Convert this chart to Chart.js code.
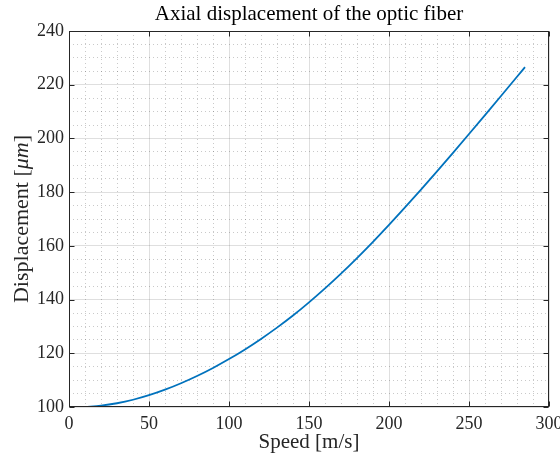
<!DOCTYPE html>
<html>
<head>
<meta charset="utf-8">
<script src="https://cdn.jsdelivr.net/npm/chart.js@4/dist/chart.umd.min.js"></script>
<style>
html, body { margin: 0; padding: 0; background: #fff; }
#wrap { width: 560px; height: 459px; }
</style>
</head>
<body>
<div id="wrap"><canvas id="fiberChart"></canvas></div>
<script>
// values
const speeds = [10, 20, 30, 40, 50, 60, 70, 80, 90, 100, 110, 120, 130, 140, 150,
    160, 170, 180, 190, 200, 210, 220, 230, 240, 250, 260, 270, 280, 285];
const displacement = [100.0, 100.5, 101.4, 102.7, 104.4, 106.45, 108.85, 111.55, 114.55, 117.85,
    121.45, 125.35, 129.55, 134.05, 138.95, 144.15, 149.65, 155.45, 161.5, 167.8,
    174.3, 180.95, 187.75, 194.65, 201.65, 208.7, 215.8, 222.95, 226.55];
const xTicks = [0, 50, 100, 150, 200, 250, 300];
const yTicks = [100, 120, 140, 160, 180, 200, 220, 240];

const serif = "'Liberation Serif', 'Times New Roman', serif";
const textColor = '#262626';

// draws the chart title, the y label (with italic unit) and the MATLAB-like box with inward ticks
const boxPlugin = {
    id: 'matlabBox',
    afterDraw(chart) {
        const ctx = chart.ctx;
        const a = chart.chartArea;
        const xs = chart.scales.x, ys = chart.scales.y;
        ctx.save();
        ctx.strokeStyle = textColor;
        ctx.lineWidth = 1;
        const l = Math.round(a.left) + 0.5, r = Math.round(a.right) - 0.5;
        const t = Math.round(a.top) + 0.5, b = Math.round(a.bottom) - 0.5;
        ctx.strokeRect(l, t, r - l, b - t);
        const len = 5;
        ctx.beginPath();
        xTicks.forEach(v => {
            const px = Math.round(xs.getPixelForValue(v)) + 0.5;
            ctx.moveTo(px, b); ctx.lineTo(px, b - len);
            ctx.moveTo(px, t); ctx.lineTo(px, t + len);
        });
        yTicks.forEach(v => {
            const py = Math.round(ys.getPixelForValue(v)) + 0.5;
            ctx.moveTo(l, py); ctx.lineTo(l + len, py);
            ctx.moveTo(r, py); ctx.lineTo(r - len, py);
        });
        ctx.stroke();

        // title
        ctx.fillStyle = '#000';
        ctx.textAlign = 'center';
        ctx.textBaseline = 'middle';
        ctx.font = '21px ' + serif;
        ctx.fillText('Axial displacement of the optic fiber', (a.left + a.right) / 2, 14);

        // y axis label
        const parts = [['Displacement [', 'normal'], ['\u03bcm', 'italic'], [']', 'normal']];
        ctx.translate(22, (a.top + a.bottom) / 2);
        ctx.rotate(-Math.PI / 2);
        ctx.fillStyle = textColor;
        ctx.textAlign = 'left';
        let total = 0;
        parts.forEach(p => { ctx.font = p[1] + ' 22px ' + serif; total += ctx.measureText(p[0]).width; });
        let x = -total / 2;
        parts.forEach(p => {
            ctx.font = p[1] + ' 22px ' + serif;
            ctx.fillText(p[0], x, 0);
            x += ctx.measureText(p[0]).width;
        });
        ctx.restore();
    }
};

function drawFiberChart() {
    const ctx = document.getElementById('fiberChart').getContext('2d');
    const points = speeds.map((s, i) => ({ x: s, y: displacement[i] }));

    new Chart(ctx, {
        type: 'line',
        data: {
            datasets: [{
                data: points,
                borderColor: '#0072BD',
                borderWidth: 1.8,
                pointRadius: 0,
                cubicInterpolationMode: 'monotone',
                fill: false
            }]
        },
        options: {
            responsive: true,
            maintainAspectRatio: false,
            animation: false,
            events: [],
            layout: { padding: { top: 31, right: 11, left: 0, bottom: 0 } },
            plugins: { legend: { display: false }, tooltip: { enabled: false } },
            scales: {
                x: {
                    type: 'linear', min: 0, max: 300,
                    afterBuildTicks: s => { s.ticks = xTicks.map(v => ({ value: v })); },
                    afterFit: s => { s.height = 52; s.paddingRight = 0; s.paddingLeft = 0; },
                    ticks: { color: textColor, font: { family: serif, size: 18 }, padding: 6, maxRotation: 0 },
                    grid: { color: 'rgba(38,38,38,0.15)', drawTicks: false, z: 0 },
                    border: { display: false },
                    title: {
                        display: true, text: 'Speed [m/s]', color: textColor,
                        font: { family: serif, size: 21 }, padding: { top: 0, bottom: 4 }
                    }
                },
                xMinor: {
                    type: 'linear', position: 'bottom', min: 0, max: 300,
                    ticks: { display: false, stepSize: 10 },
                    afterFit: s => { s.height = 0; },
                    grid: {
                        drawTicks: false,
                        color: c => (c.tick && c.tick.value % 50 === 0) ? 'rgba(0,0,0,0)' : 'rgba(38,38,38,0.25)'
                    },
                    border: { display: false, dash: [1, 3] }
                },
                y: {
                    type: 'linear', min: 100, max: 240,
                    afterBuildTicks: s => { s.ticks = yTicks.map(v => ({ value: v })); },
                    afterFit: s => { s.width = 69; },
                    ticks: { color: textColor, font: { family: serif, size: 18 }, padding: 5 },
                    grid: { color: 'rgba(38,38,38,0.15)', drawTicks: false },
                    border: { display: false }
                },
                yMinor: {
                    type: 'linear', position: 'left', min: 100, max: 240,
                    ticks: { display: false, stepSize: 5 },
                    afterFit: s => { s.width = 0; },
                    grid: {
                        drawTicks: false,
                        color: c => (c.tick && c.tick.value % 20 === 0) ? 'rgba(0,0,0,0)' : 'rgba(38,38,38,0.25)'
                    },
                    border: { display: false, dash: [1, 3] }
                }
            }
        },
        plugins: [boxPlugin]
    });
}

drawFiberChart();
</script>
</body>
</html>
